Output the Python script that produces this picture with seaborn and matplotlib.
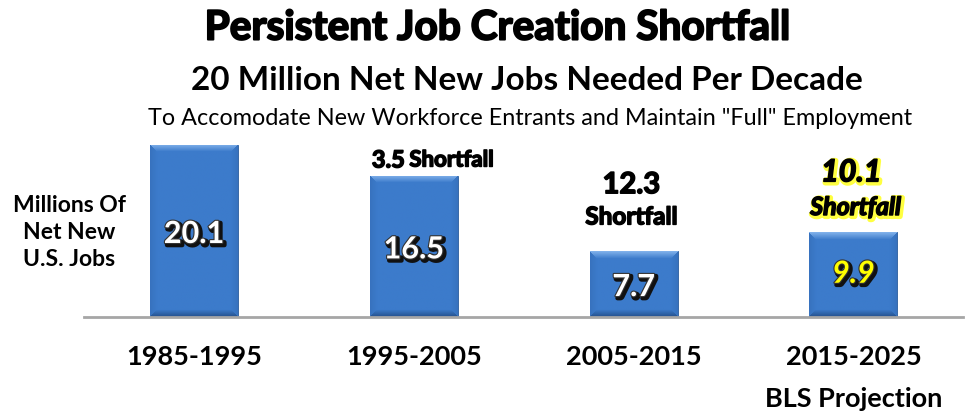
import numpy as np
import pandas as pd
import matplotlib
matplotlib.use("Agg")
import matplotlib.pyplot as plt
import matplotlib.patheffects as pe
from matplotlib.colors import to_rgb
import seaborn as sns

# Data
periods = ["1985-1995", "1995-2005", "2005-2015", "2015-2025\nBLS Projection"]
jobs = [20.1, 16.5, 7.7, 9.9]
shortfall = [None, 3.5, 12.3, 10.1]

sns.set_theme(style="white")
plt.rcParams["font.family"] = ["Lato", "DejaVu Sans"]

DPI = 100
fig = plt.figure(figsize=(9.77, 4.13), dpi=DPI)
ax = fig.add_axes([0.086, 0.2324, 0.900, 0.4286])

df = pd.DataFrame({"period": periods, "jobs": jobs})
sns.barplot(data=df, x="period", y="jobs", color="#3b78c6", width=0.4,
            saturation=1, edgecolor="none", ax=ax)
ax.set_xlim(-0.5, 3.5)
ax.set_ylim(0, 20.68)

# Bevelled fill for each bar
base = np.array(to_rgb("#3c7bcb"))
light = np.array(to_rgb("#7fb0ea"))
dark = np.array(to_rgb("#25528f"))
fig.canvas.draw()
for patch in ax.patches:
    x0, y0 = patch.get_x(), patch.get_y()
    w, h = patch.get_width(), patch.get_height()
    bb = patch.get_window_extent()
    wp, hp = max(int(bb.width), 2), max(int(bb.height), 2)
    img = np.tile(base, (hp, wp, 1))
    bev = 7
    yy, xx = np.mgrid[0:hp, 0:wp]
    d_top = yy
    d_bot = hp - 1 - yy
    d_left = xx
    d_right = wp - 1 - xx
    dmin = np.minimum.reduce([d_top, d_bot, d_left, d_right])
    t = np.clip(1 - dmin / bev, 0, 1)[..., None]
    is_top = (d_top == dmin)[..., None]
    is_bot = (d_bot == dmin)[..., None]
    edge_col = np.where(is_top, light, np.where(is_bot, dark, base * 0.8 + dark * 0.2))
    img = img * (1 - t) + edge_col * t
    im = ax.imshow(img, extent=(x0, x0 + w, y0, y0 + h), aspect="auto",
                   interpolation="bilinear", zorder=3)
    im.set_clip_path(patch)
    patch.set_edgecolor("#2a5c9c")
    patch.set_linewidth(0.6)

ax.set_aspect("auto")
ax.set_xlim(-0.5, 3.5)
ax.set_ylim(0, 20.68)

for s in ["top", "right", "left"]:
    ax.spines[s].set_visible(False)
ax.spines["bottom"].set_color("#a6a6a6")
ax.spines["bottom"].set_linewidth(2)
ax.spines["bottom"].set_zorder(5)
ax.set_yticks([])
ax.set_xlabel("")
ax.set_ylabel("")
ax.tick_params(axis="x", length=0, pad=20)
for lab in ax.get_xticklabels():
    lab.set_fontsize(19.5)
    lab.set_fontweight("bold")
    lab.set_color("black")
    lab.set_linespacing(1.9)
    lab.set_verticalalignment("top")

heavy = [pe.Stroke(linewidth=1.1, foreground="black"), pe.Normal()]

# Value labels inside bars
white_fx = [pe.Stroke(linewidth=3.2, foreground="#111111", offset=(1.5, -1.5)),
            pe.Stroke(linewidth=1.6, foreground="#333333"), pe.Normal()]
for i, v in enumerate(jobs):
    ypos = v / 2 - (0.35 if i < 3 else -0.1)
    if i == 3:
        ax.text(i, ypos, f"{v}", ha="center", va="center", fontsize=22,
                fontweight="bold", fontstyle="italic", color="#ffff00",
                path_effects=white_fx, zorder=6)
    else:
        ax.text(i, ypos, f"{v}", ha="center", va="center", fontsize=22,
                fontweight="bold", color="white",
                path_effects=white_fx, zorder=6)

# Shortfall annotations
ax.text(0.96, jobs[1] + 1.85, f"{shortfall[1]}", ha="right", va="center",
        fontsize=17, fontweight="bold", color="black", path_effects=heavy)
ax.text(0.98, jobs[1] + 1.85, "Shortfall", ha="left", va="center",
        fontsize=16, fontweight="bold", color="black", path_effects=heavy)
ax.text(1.99, jobs[2] + 7.7, f"{shortfall[2]}", ha="center", va="center",
        fontsize=21, fontweight="bold", color="black", path_effects=heavy)
ax.text(1.99, jobs[2] + 4.0, "Shortfall", ha="center", va="center",
        fontsize=17.5, fontweight="bold", color="black", path_effects=heavy)
glow = [pe.Stroke(linewidth=4, foreground="#ffff40", offset=(1, -1)),
        pe.Stroke(linewidth=1.1, foreground="black"), pe.Normal()]
ax.text(2.99, jobs[3] + 7.0, f"{shortfall[3]}", ha="center", va="center",
        fontsize=22, fontweight="bold", fontstyle="italic", color="black",
        path_effects=glow)
ax.text(3.01, jobs[3] + 2.9, "Shortfall", ha="center", va="center",
        fontsize=18, fontweight="bold", fontstyle="italic", color="black",
        path_effects=glow)

# Titles
fig.text(0.509, 0.932, "Persistent Job Creation Shortfall", ha="center",
         va="center", fontsize=29.2, fontweight="bold", color="black",
         path_effects=[pe.Stroke(linewidth=1.4, foreground="black"), pe.Normal()])
fig.text(0.539, 0.805, "20 Million Net New Jobs Needed Per Decade", ha="center",
         va="center", fontsize=24, fontweight="bold", color="black")
fig.text(0.543, 0.713,
         'To Accomodate New Workforce Entrants and Maintain "Full" Employment',
         ha="center", va="center", fontsize=16.8, color="black")

# Axis caption
fig.text(0.071, 0.438, "Millions Of\nNet New\nU.S. Jobs", ha="center",
         va="center", fontsize=16.5, fontweight="bold", color="black",
         linespacing=1.35)

fig.savefig("out.png", dpi=DPI)
